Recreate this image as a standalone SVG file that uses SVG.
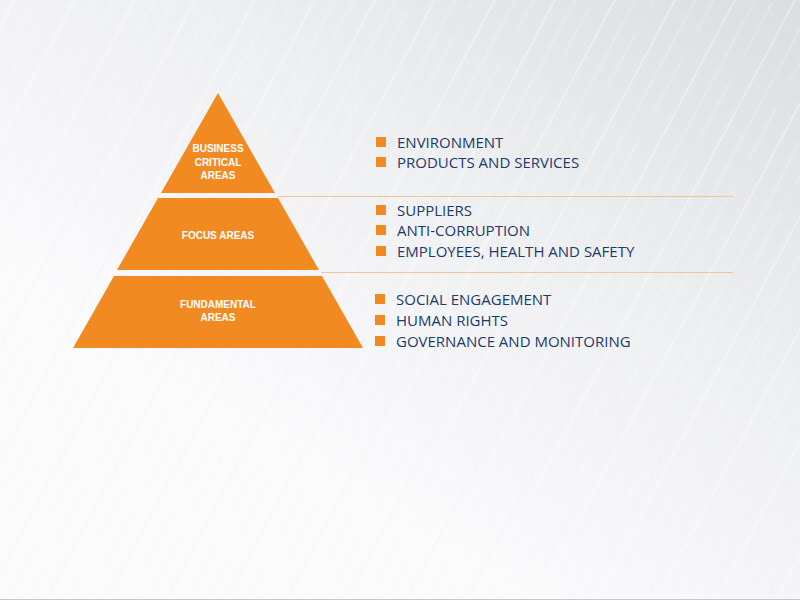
<svg xmlns="http://www.w3.org/2000/svg" width="800" height="600" viewBox="0 0 800 600">
<defs>
<linearGradient id="bg" x1="1" y1="0" x2="0.35" y2="0.75">
<stop offset="0" stop-color="#dbdde0"/>
<stop offset="0.5" stop-color="#eeeff1"/>
<stop offset="1" stop-color="#fbfbfc"/>
</linearGradient>
<pattern id="brush" width="53" height="90" patternUnits="userSpaceOnUse" patternTransform="rotate(28)">
<line x1="4" y1="0" x2="4" y2="90" stroke="#c9ccd1" stroke-width="0.5" opacity="0.25"/>
<line x1="13" y1="0" x2="13" y2="90" stroke="#ffffff" stroke-width="1.4" opacity="0.45"/>
<line x1="22" y1="15" x2="22" y2="70" stroke="#c9ccd1" stroke-width="0.4" opacity="0.25"/>
<line x1="31" y1="0" x2="31" y2="90" stroke="#ffffff" stroke-width="0.9" opacity="0.4"/>
<line x1="40" y1="30" x2="40" y2="90" stroke="#c9ccd1" stroke-width="0.4" opacity="0.2"/>
<line x1="47" y1="0" x2="47" y2="60" stroke="#ffffff" stroke-width="1" opacity="0.35"/>
</pattern>
<style>
.tier{fill:#f28a22;}
.tl{font-family:"Liberation Sans",Arial,sans-serif;font-size:10px;fill:#ffffff;text-anchor:middle;font-weight:bold;}
.it{font-family:"Open Sans","Liberation Sans",sans-serif;font-size:15px;fill:#1d3a6b;}
.bul{fill:#f28a22;}
.sep{stroke:#f2c596;stroke-width:1.2;fill:none;}
</style>
</defs>
<rect width="800" height="600" fill="url(#bg)"/>
<rect width="800" height="600" fill="url(#brush)"/>
<line x1="0" y1="599.5" x2="800" y2="599.5" stroke="#c8c8c8" stroke-width="1"/>

<g id="connectors">
<line class="sep" x1="278" y1="196.5" x2="733" y2="196.5"/>
<line class="sep" x1="321" y1="272.5" x2="733" y2="272.5"/>
</g>

<g id="tier-business-critical">
<polygon class="tier" points="218,93 275,193 161,193"/>
<text class="tl" x="218" y="152">BUSINESS</text>
<text class="tl" x="218" y="165.5">CRITICAL</text>
<text class="tl" x="218" y="179">AREAS</text>
</g>
<g id="tier-focus">
<polygon class="tier" points="158,198 278,198 319,270 117,270"/>
<text class="tl" x="218" y="239">FOCUS AREAS</text>
</g>
<g id="tier-fundamental">
<polygon class="tier" points="114,276 322,276 363,348 73,348"/>
<text class="tl" x="218" y="307.5">FUNDAMENTAL</text>
<text class="tl" x="218" y="321">AREAS</text>
</g>

<g id="list-business-critical">
<rect class="bul" x="376" y="137" width="10" height="10"/>
<text class="it" x="397" y="147.5">ENVIRONMENT</text>
<rect class="bul" x="376" y="157" width="10" height="10"/>
<text class="it" x="397" y="167.5">PRODUCTS AND SERVICES</text>
</g>
<g id="list-focus">
<rect class="bul" x="376" y="205" width="10" height="10"/>
<text class="it" x="397" y="215.5">SUPPLIERS</text>
<rect class="bul" x="376" y="225" width="10" height="10"/>
<text class="it" x="397" y="235.5">ANTI-CORRUPTION</text>
<rect class="bul" x="376" y="246" width="10" height="10"/>
<text class="it" x="397" y="256.5">EMPLOYEES, HEALTH AND SAFETY</text>
</g>
<g id="list-fundamental">
<rect class="bul" x="375" y="294" width="10" height="10"/>
<text class="it" x="396" y="304.5">SOCIAL ENGAGEMENT</text>
<rect class="bul" x="375" y="315" width="10" height="10"/>
<text class="it" x="396" y="325.5">HUMAN RIGHTS</text>
<rect class="bul" x="375" y="336" width="10" height="10"/>
<text class="it" x="396" y="346.5">GOVERNANCE AND MONITORING</text>
</g>
</svg>
